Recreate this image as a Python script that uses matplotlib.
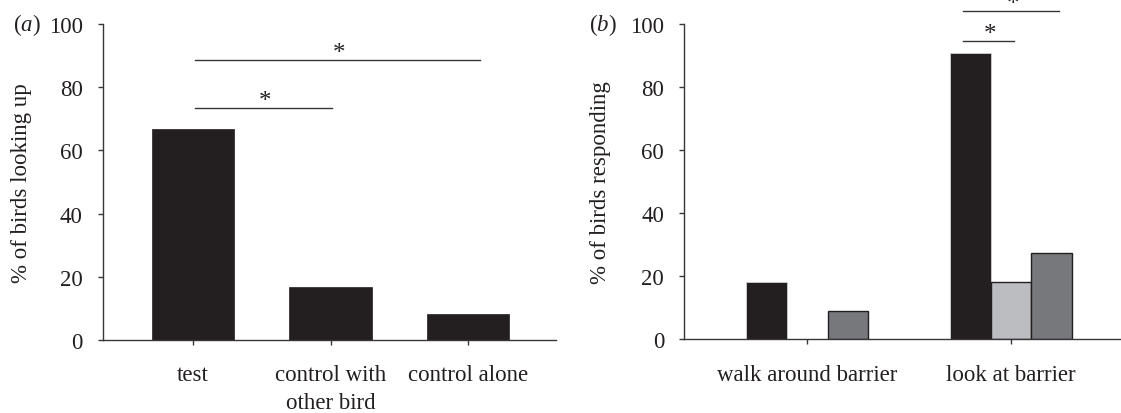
import matplotlib
matplotlib.use("Agg")
import matplotlib.pyplot as plt
import numpy as np

plt.rcParams['font.family'] = ['Liberation Serif', 'DejaVu Serif']
plt.rcParams['mathtext.fontset'] = 'custom'
plt.rcParams['mathtext.rm'] = 'Liberation Serif'
plt.rcParams['mathtext.it'] = 'Liberation Serif:italic'

INK = '#231f20'
SPINE = '#3a3637'

# ---- data ----
cats_a = ['test', 'control with\nother bird', 'control alone']
vals_a = [66.7, 16.7, 8.3]
sig_a = [(0.015, 1.01, 73.3), (0.015, 2.09, 88.6)]   # (x0, x1, y) in data units

cats_b = ['walk around barrier', 'look at barrier']
test_b = [18.2, 90.9]
other_bird_b = [0.0, 18.2]
alone_b = [9.1, 27.3]
sig_b = [(0.765, 1.013, 94.7), (0.765, 1.236, 104.2)]

yticks = [0, 20, 40, 60, 80, 100]

fig = plt.figure(figsize=(11.21, 4.14), dpi=100)
axA = fig.add_axes([103/1121, 73/414, 453/1121, 316/414])
axB = fig.add_axes([684.3/1121, 73.7/414, 436.7/1121, 315.3/414])

FS = 16.5

def style(ax):
    for s in ['top', 'right']:
        ax.spines[s].set_visible(False)
    for s in ['left', 'bottom']:
        ax.spines[s].set_color(SPINE)
        ax.spines[s].set_linewidth(1.0)
    ax.set_ylim(0, 100)
    ax.set_yticks(yticks)
    ax.tick_params(axis='y', direction='out', length=3.6, width=1.0, color=SPINE,
                   labelsize=FS, labelcolor=INK, pad=11)
    ax.tick_params(axis='x', direction='out', length=3.6, width=1.0, color=SPINE,
                   labelsize=FS, labelcolor=INK, pad=14)

def sig(ax, items):
    for x0, x1, y in items:
        ax.plot([x0, x1], [y, y], color=SPINE, lw=1.0, clip_on=False)
        ax.text((x0 + x1) / 2 + 0.01, y + 0.3, '*', ha='center', va='baseline',
                fontsize=18, color=INK, clip_on=False)

# ---- panel a ----
xa = np.arange(len(cats_a))
axA.bar(xa, vals_a, width=0.6, color=INK, edgecolor=INK, linewidth=0.5)
axA.set_xlim(-0.655, 2.64)
axA.set_xticks(xa)
axA.set_xticklabels(cats_a, linespacing=1.4)
style(axA)
axA.set_ylabel('% of birds looking up', fontsize=FS, color=INK, labelpad=12)
sig(axA, sig_a)

# ---- panel b ----
xb = np.arange(len(cats_b))
w = 0.2
axB.bar(xb - w, test_b, width=w, color=INK, edgecolor='#d0d0d0', linewidth=0.6)
axB.bar(xb, other_bird_b, width=w, color='#bcbdc0', edgecolor=INK,
        linewidth=[1.0 if v > 0 else 0 for v in other_bird_b])
axB.bar(xb + w, alone_b, width=w, color='#77787b', edgecolor=INK, linewidth=1.0)
axB.set_xlim(-0.604, 1.54)
axB.set_xticks(xb)
axB.set_xticklabels(cats_b)
style(axB)
axB.set_ylabel('% of birds responding', fontsize=FS, color=INK, labelpad=14)
sig(axB, sig_b)

# panel letters
fig.text(13/1121, 1 - 31/414, r'($\mathit{a}$)', fontsize=FS, color=INK,
         ha='left', va='baseline')
fig.text(589/1121, 1 - 31/414, r'($\mathit{b}$)', fontsize=FS, color=INK,
         ha='left', va='baseline')

fig.savefig('out.png', dpi=100)
